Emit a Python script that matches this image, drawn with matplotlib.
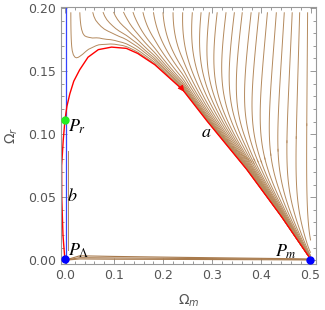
import numpy as np
import matplotlib
matplotlib.use('Agg')
import matplotlib.pyplot as plt

# red separatrix a: from P_r to P_m
a_x = [0.0, 0.004, 0.010, 0.018, 0.030, 0.047, 0.068, 0.095, 0.125, 0.148, 0.183,
       0.24, 0.29, 0.37, 0.44, 0.498]
a_y = [0.111, 0.122, 0.132, 0.142, 0.151, 0.161, 0.167, 0.169, 0.168, 0.164, 0.155,
       0.135, 0.110, 0.072, 0.035, 0.002]
# red separatrix b: from P_Lambda up to P_r
b_x = [0.0, -0.004, -0.0065, -0.0067, -0.0035, 0.0]
b_y = [0.0, 0.02, 0.05, 0.075, 0.095, 0.111]

# where the stream lines cross the top edge
top_x = [0.012, 0.030, 0.055, 0.075, 0.096, 0.116, 0.136, 0.157, 0.179, 0.199, 0.220,
         0.240, 0.260, 0.278, 0.295, 0.311, 0.329, 0.346, 0.362, 0.380, 0.396, 0.413,
         0.431, 0.447, 0.463, 0.478, 0.494]

# stream lines along the bottom, from P_Lambda to P_m
bot_x = [0.0, 0.03, 0.1, 0.25, 0.4, 0.5]
bot_y1 = [0.0, 0.0035, 0.003, 0.0022, 0.0015, 0.001]
bot_y2 = [0.0, 0.002, 0.0018, 0.0014, 0.001, 0.0005]
bot_y3 = [0.0, 0.001, 0.0008, 0.0006, 0.0004, 0.0002]

points = {'P_r': (0.0, 0.111), 'P_L': (0.0, 0.0008), 'P_m': (0.4994, 0.0)}

fig = plt.figure(figsize=(3.25, 3.10), dpi=100)
ax = fig.add_axes([0.1877, 0.1484, 0.7846, 0.829])

# vector field that pulls the flow onto curve a and slides it to P_m
xs = np.linspace(-0.008, 0.5, 300)
ys = np.linspace(-0.003, 0.2008, 300)
X, Y = np.meshgrid(xs, ys)
c1 = np.interp(xs, a_x, a_y)
dc1 = np.gradient(c1, xs)
c = np.tile(c1, (len(ys), 1))
dc = np.tile(dc1, (len(ys), 1))
d = Y - c
Xp = np.clip(X, 0, None)
slide = 2.5 * (Xp + 0.005) * (0.51 - X)
fall = 1.5 * d * (1 + (d / 0.03) ** 2)
tau = 7 * Xp * (0.5 - X)
U = slide - tau * fall
V = dc * slide - fall

starts = np.column_stack([top_x, np.full(len(top_x), 0.2)])
ax.streamplot(xs, ys, U, V, start_points=starts, color='#b48a5e', linewidth=0.7,
              arrowstyle='-', integration_direction='forward',
              broken_streamlines=False, maxlength=10, density=2)

for yy in (bot_y1, bot_y2, bot_y3):
    ax.plot(bot_x, yy, color='#a87a4c', lw=0.8)
ax.plot([0.0055, 0.0055], [0.008, 0.087], color='#b48a5e', lw=0.7)

ax.axvline(0.0015, color='#3344ff', lw=0.9)
ax.plot(a_x, a_y, color='red', lw=1.0)
ax.plot(b_x, b_y, color='red', lw=1.0)
ax.annotate('', xy=(0.246, 0.1318), xytext=(0.234, 0.1382),
            arrowprops=dict(arrowstyle='-|>', color='red', lw=0.5, mutation_scale=10))

ax.plot(*points['P_r'], 'o', color='#22ee22', ms=5, clip_on=False, zorder=5)
ax.plot(*points['P_L'], 'o', color='blue', ms=5, clip_on=False, zorder=5)
ax.plot(*points['P_m'], 'o', color='blue', ms=5, clip_on=False, zorder=5)

lab = dict(fontsize=13, math_fontfamily='stix', color='black')
ax.text(0.007, 0.102, r'$P_r$', **lab)
ax.text(0.007, 0.004, r'$P_\Lambda$', **lab)
ax.text(0.428, 0.003, r'$P_m$', **lab)
ax.text(0.276, 0.098, r'$a$', **lab)
ax.text(0.004, 0.047, r'$b$', **lab)

ax.set_xlim(-0.008, 0.511)
ax.set_ylim(-0.003, 0.2008)
ax.set_xticks([0.0, 0.1, 0.2, 0.3, 0.4, 0.5])
ax.set_xticklabels(['0.0', '0.1', '0.2', '0.3', '0.4', '0.5'])
ax.set_yticks([0.0, 0.05, 0.10, 0.15, 0.20])
ax.set_yticklabels(['0.00', '0.05', '0.10', '0.15', '0.20'])
ax.set_xticks(np.arange(0, 0.51, 0.02), minor=True)
ax.set_yticks(np.arange(0, 0.201, 0.01), minor=True)
ax.tick_params(which='both', direction='in', top=True, right=True, colors='#888888',
               labelcolor='#555555', labelsize=9, width=0.6)
ax.tick_params(which='major', length=4)
ax.tick_params(which='minor', length=2)
for s in ax.spines.values():
    s.set_color('#999999')
    s.set_linewidth(0.8)

ax.set_xlabel(r'$\Omega_m$', color='#555555', fontsize=10, labelpad=8)
ax.set_ylabel(r'$\Omega_r$', color='#555555', fontsize=10, labelpad=6)

fig.savefig('out.png', dpi=100)
